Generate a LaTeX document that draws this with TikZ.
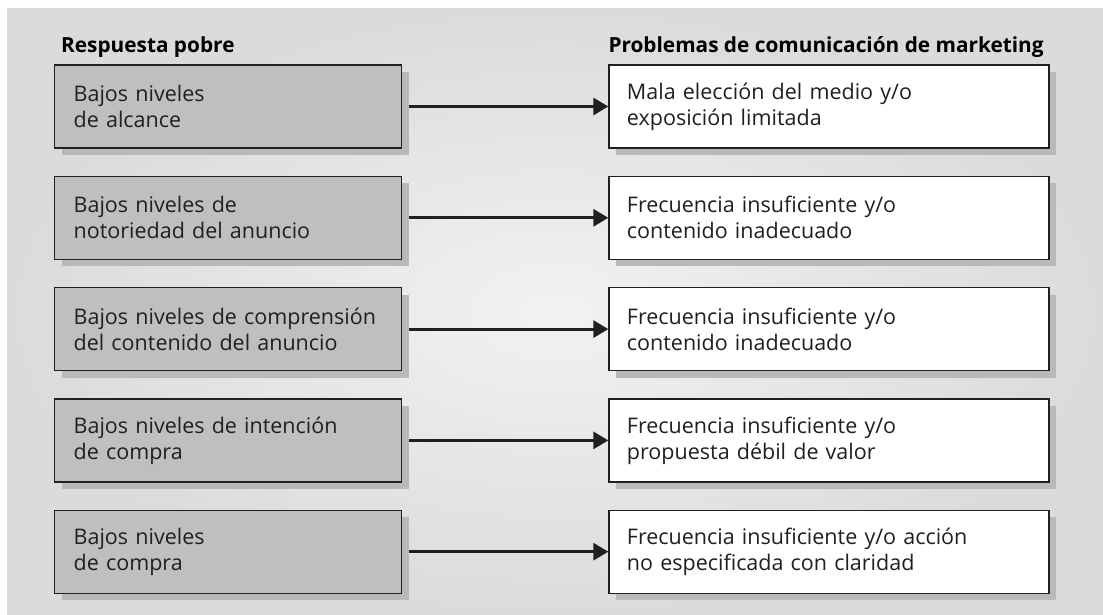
\documentclass[tikz,border=0pt]{standalone}
\usepackage{fontspec}
\setmainfont{Open Sans}
\usepackage{xcolor}
\usetikzlibrary{arrows.meta,positioning,shadows}
\definecolor{PInk}{HTML}{231F20}
\definecolor{PBox}{HTML}{BEBFC1}
\definecolor{PShade}{HTML}{B8B9BB}
\definecolor{PBgIn}{HTML}{F2F2F2}
\definecolor{PBgOut}{HTML}{DBDBDC}
\hyphenpenalty=10000

\begin{document}
\begin{tikzpicture}[
    font=\fontsize{21.5}{26}\selectfont\color{PInk},
    cause/.style={draw=PInk, line width=1.3pt, fill=PBox,
      minimum height=83pt, text width=309pt, inner xsep=19pt,
      align=left, anchor=west,
      general shadow={fill=PShade, shadow xshift=7pt, shadow yshift=-7pt}},
    problem/.style={cause, fill=white, text width=404pt, inner xsep=18pt},
    head/.style={anchor=base west, inner sep=0pt, font=\fontsize{20.8}{26}\selectfont\bfseries},
    flow/.style={draw=PInk, line width=3pt, -{Triangle[length=15pt,width=17pt]}}
  ]
    \useasboundingbox (0,0) rectangle (1103pt,615pt);
    \shade[inner color=PBgIn, outer color=PBgOut] (7pt,0) rectangle (1103pt,606pt);

    % left column
    \node[cause] (l1) at (54pt,508.5pt) {Bajos niveles\\de alcance};
    \node[cause, below=27pt of l1] (l2) {Bajos niveles de\\notoriedad del anuncio};
    \node[cause, below=27pt of l2] (l3) {Bajos niveles de comprensión\\del contenido del anuncio};
    \node[cause, below=27pt of l3] (l4) {Bajos niveles de intención\\de compra};
    \node[cause, below=27pt of l4] (l5) {Bajos niveles\\de compra};

    % right column
    \node[problem, right=206pt of l1] (r1) {Mala elección del medio y/o\\exposición limitada};
    \node[problem, right=206pt of l2] (r2) {Frecuencia insuficiente y/o\\contenido inadecuado};
    \node[problem, right=206pt of l3] (r3) {Frecuencia insuficiente y/o\\contenido inadecuado};
    \node[problem, right=206pt of l4] (r4) {Frecuencia insuficiente y/o\\propuesta débil de valor};
    \node[problem, right=206pt of l5] (r5) {Frecuencia insuficiente y/o acción\\no especificada con claridad};

    \node[head] (hl) at ([shift={(7pt,12pt)}]l1.north west) {Respuesta pobre};
    \node[head] (hr) at ([shift={(0pt,12pt)}]r1.north west) {Problemas de comunicación de marketing};

    \draw[flow] ([xshift=7pt]l1.east) -- (r1.west);
    \draw[flow] ([xshift=7pt]l2.east) -- (r2.west);
    \draw[flow] ([xshift=7pt]l3.east) -- (r3.west);
    \draw[flow] ([xshift=7pt]l4.east) -- (r4.west);
    \draw[flow] ([xshift=7pt]l5.east) -- (r5.west);
  \end{tikzpicture}
\end{document}
